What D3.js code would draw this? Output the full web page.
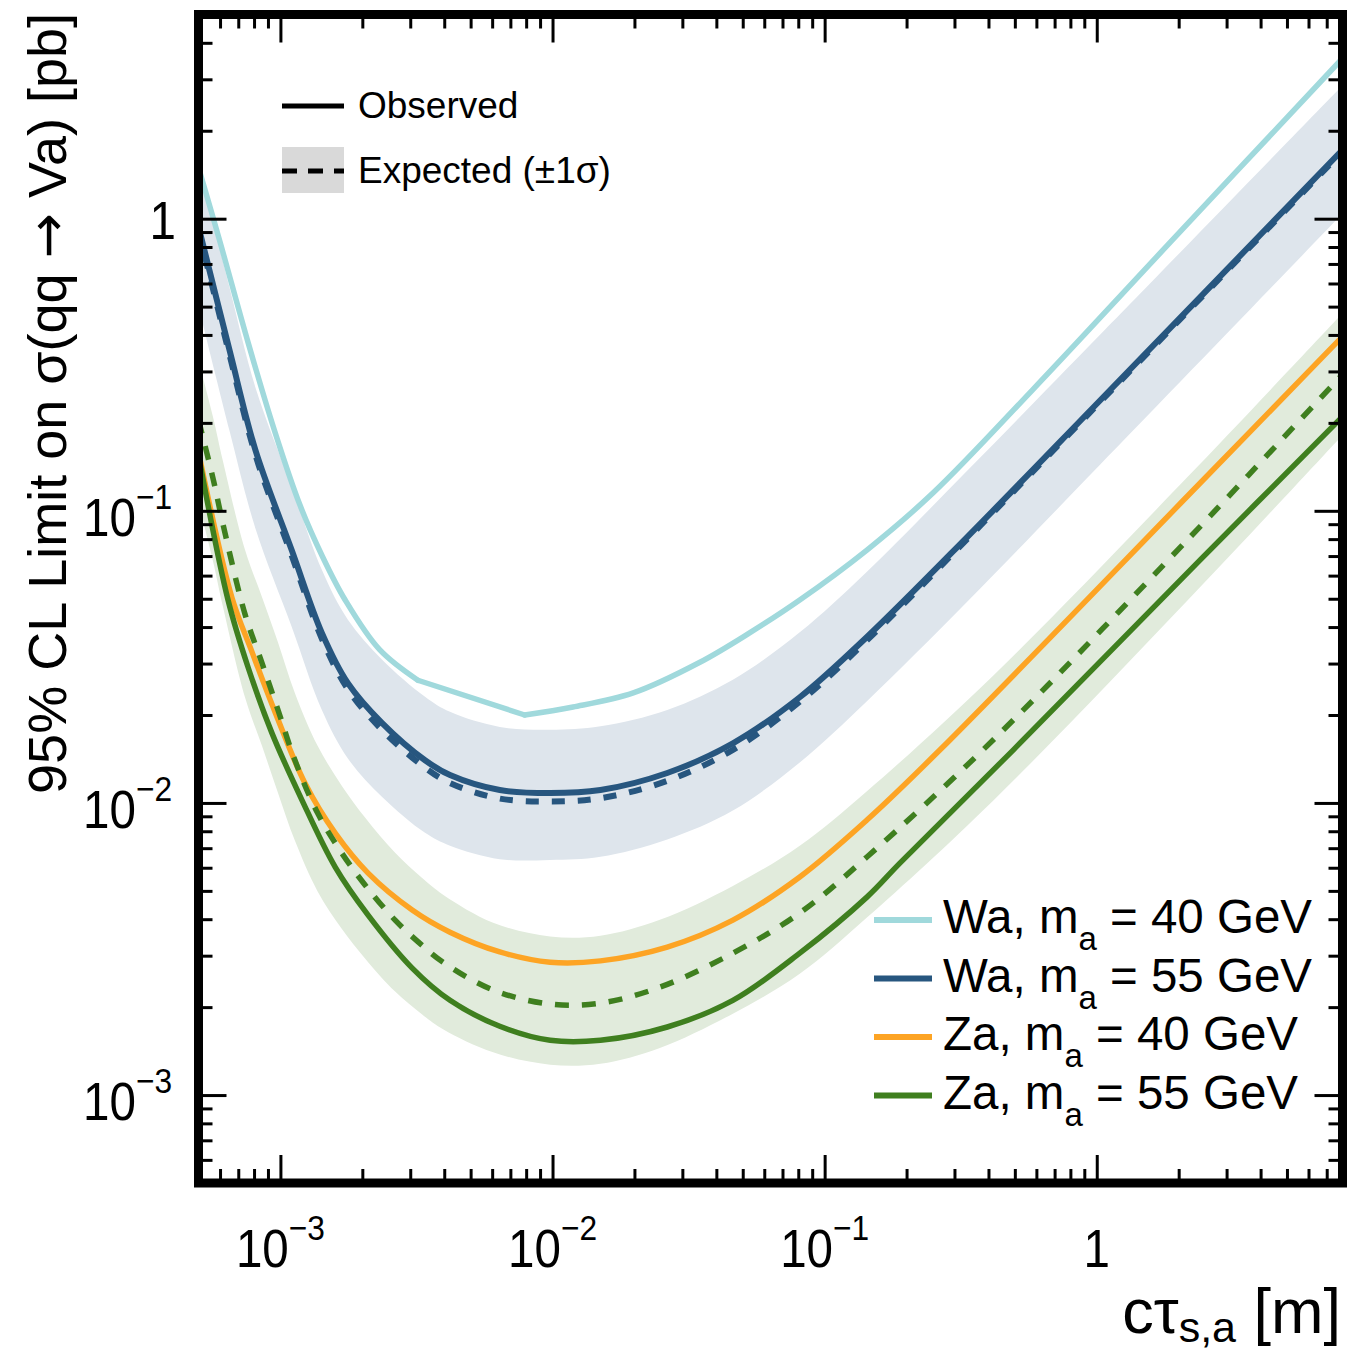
<!DOCTYPE html>
<html>
<head>
<meta charset="utf-8">
<script src="https://cdn.jsdelivr.net/npm/d3@7"></script>
<style>
  html, body { margin: 0; padding: 0; background: #fff; }
  svg { display: block; font-family: "Liberation Sans", Arial, Helvetica, sans-serif; }
</style>
</head>
<body>
<script>
// ---- Limits on sigma(qq -> Va) versus c*tau (log-log) ----

// Wa, m_a = 40 GeV : observed
const wa40X   = [5e-4, 6e-4, 7.6e-4, 9.55e-4, 1.18e-3, 1.43e-3, 1.73e-3, 2.32e-3, 3.2e-3, 7.9e-3, 1.19e-2, 1.98e-2, 3.48e-2, 5.3e-2, 8.1e-2, 0.143, 0.25, 0.58, 1.75, 8];
const wa40Obs = [1.50, 0.832, 0.378, 0.186, 0.1046, 0.0695, 0.0495, 0.0334, 0.0263, 0.0200, 0.0213, 0.0238, 0.0303, 0.0382, 0.0495, 0.0734, 0.115, 0.259, 0.78, 3.54];
// the observed Wa 40 GeV curve has sharp corners at these two points
const wa40Corners = [3.2e-3, 7.9e-3];

// Wa, m_a = 55 GeV : observed, expected and +-1 sigma band
const wa55X   = [5e-4, 6.5e-4, 8.1e-4, 1.1e-3, 1.42e-3, 1.77e-3, 2.36e-3, 3.4e-3, 4.2e-3, 6.4e-3, 9.8e-3, 1.5e-2, 2.64e-2, 4.6e-2, 8.1e-2, 0.143, 0.334, 1.03, 8];
const wa55Obs = [0.94, 0.355, 0.161, 0.0734, 0.0382, 0.0257, 0.0188, 0.0140, 0.01246, 0.01107, 0.01081, 0.01107, 0.01266, 0.0160, 0.0230, 0.0370, 0.0813, 0.239, 1.72];
const wa55Exp = [0.91, 0.342, 0.155, 0.0703, 0.0365, 0.0245, 0.0178, 0.0132, 0.0117, 0.01035, 0.01012, 0.01038, 0.0119, 0.0152, 0.0222, 0.0360, 0.0800, 0.236, 1.70];
const wa55Hi  = [1.55, 0.581, 0.264, 0.121, 0.0628, 0.0424, 0.0310, 0.0231, 0.0205, 0.0182, 0.0178, 0.0183, 0.0208, 0.0264, 0.0384, 0.0619, 0.137, 0.401, 2.86];
const wa55Lo  = [0.50, 0.188, 0.0868, 0.0401, 0.0208, 0.0142, 0.0105, 0.0079, 0.00714, 0.00642, 0.00638, 0.00654, 0.0075, 0.00942, 0.01376, 0.0223, 0.0488, 0.144, 1.04];

// Za, m_a = 40 GeV : observed
const za40X   = [5e-4, 6.64e-4, 7.86e-4, 9.55e-4, 1.23e-3, 1.59e-3, 2.1e-3, 3.05e-3, 4.2e-3, 6.4e-3, 9.8e-3, 1.5e-2, 2.64e-2, 4.6e-2, 8.1e-2, 0.143, 0.265, 2.4, 8];
const za40Obs = [0.159, 0.0503, 0.0329, 0.0205, 0.0117, 0.00788, 0.00575, 0.0043, 0.00361, 0.00309, 0.00285, 0.00288, 0.00321, 0.00397, 0.00558, 0.00874, 0.01517, 0.1245, 0.395];

// Za, m_a = 55 GeV : observed
const za55X   = [5e-4, 6.42e-4, 7.6e-4, 9.31e-4, 1.2e-3, 1.59e-3, 2.1e-3, 3.05e-3, 4.2e-3, 6.4e-3, 9.8e-3, 1.5e-2, 2.64e-2, 4.6e-2, 8.1e-2, 0.143, 0.189, 0.493, 2.4, 8];
const za55Obs = [0.155, 0.0495, 0.0292, 0.01734, 0.01023, 0.00603, 0.00413, 0.00272, 0.00211, 0.00172, 0.00154, 0.00154, 0.00171, 0.00211, 0.00306, 0.00476, 0.00622, 0.01517, 0.0679, 0.21];

// Za, m_a = 55 GeV : expected and +-1 sigma band
const za55ExpX = [5e-4, 5.65e-4, 6.15e-4, 7.41e-4, 8.56e-4, 9.8e-4, 1.13e-3, 1.37e-3, 1.68e-3, 2.05e-3, 2.64e-3, 3.31e-3, 3.96e-3, 6.05e-3, 9.8e-3, 1.5e-2, 2.48e-2, 4.6e-2, 8.1e-2, 0.143, 0.416, 2.15, 8];
const za55Exp  = [0.2046, 0.1295, 0.0901, 0.0443, 0.0301, 0.0208, 0.01402, 0.00923, 0.00674, 0.00523, 0.00397, 0.00326, 0.00285, 0.002288, 0.00205, 0.002065, 0.00234, 0.00306, 0.0042, 0.00653, 0.01642, 0.0794, 0.293];
const za55Hi   = [0.327, 0.2098, 0.1478, 0.0735, 0.0506, 0.0354, 0.0238, 0.01569, 0.01146, 0.00889, 0.00675, 0.00554, 0.00485, 0.00389, 0.00349, 0.00351, 0.00398, 0.0052, 0.00714, 0.01097, 0.02726, 0.1302, 0.4747];
const za55Lo   = [0.1064, 0.0673, 0.0469, 0.023, 0.01565, 0.01082, 0.00743, 0.00498, 0.00371, 0.00293, 0.00226, 0.00189, 0.00168, 0.0014, 0.00127, 0.00128, 0.00145, 0.0019, 0.0026, 0.00405, 0.01018, 0.0492, 0.1817];

// Axis tick labels (mantissa, exponent)
const xMajor = [1e-3, 1e-2, 1e-1, 1];
const xMajorLabels = [["10", "\u22123"], ["10", "\u22122"], ["10", "\u22121"], ["1", ""]];
const yMajor = [1e-3, 1e-2, 1e-1, 1];
const yMajorLabels = [["10", "\u22123"], ["10", "\u22122"], ["10", "\u22121"], ["1", ""]];

// Legend entries
const seriesNames  = ["Wa, m", "Wa, m", "Za, m", "Za, m"];
const seriesMass   = [" = 40 GeV", " = 55 GeV", " = 40 GeV", " = 55 GeV"];
const seriesColors = ["#a0d9dc", "#27567f", "#fda424", "#3f7f1f"];

// ---- layout ----
const W = 1366, H = 1351;
const L = 198.5, R = 1342.5, T = 14.5, B = 1183;

const svg = d3.select("body").append("svg").attr("width", W).attr("height", H);

const x = d3.scaleLog().domain([5e-4, 8]).range([L, R]);
const y = d3.scaleLog().domain([5e-4, 5]).range([B, T]);

svg.append("defs").append("clipPath").attr("id", "plotClip")
  .append("rect").attr("x", L + 4.5).attr("y", T + 4.5)
  .attr("width", R - L - 9).attr("height", B - T - 9);

const plot = svg.append("g").attr("clip-path", "url(#plotClip)");

const zip = (xs, ys) => xs.map((v, i) => [v, ys[i]]);
const zip3 = (xs, lo, hi) => xs.map((v, i) => [v, lo[i], hi[i]]);

const curve = d3.curveCatmullRom.alpha(0.5);
const lineSmooth = d3.line().x(d => x(d[0])).y(d => y(d[1])).curve(curve);
const lineStraight = d3.line().x(d => x(d[0])).y(d => y(d[1]));
const band = d3.area().x(d => x(d[0])).y0(d => y(d[1])).y1(d => y(d[2])).curve(curve);

// +-1 sigma bands
plot.append("path").datum(zip3(wa55X, wa55Lo, wa55Hi))
  .attr("d", band).attr("fill", "#dee5ec");
plot.append("path").datum(zip3(za55ExpX, za55Lo, za55Hi))
  .attr("d", band).attr("fill", "#e1ebdc");

// Wa 40 GeV observed: smooth pieces joined by a straight piece between the corners
{
  const pts = zip(wa40X, wa40Obs);
  const [c1, c2] = wa40Corners;
  const pieces = [
    [pts.filter(d => d[0] <= c1), lineSmooth],
    [pts.filter(d => d[0] >= c1 && d[0] <= c2), lineStraight],
    [pts.filter(d => d[0] >= c2), lineSmooth]
  ];
  pieces.forEach(([p, gen]) => {
    plot.append("path").datum(p).attr("d", gen)
      .attr("fill", "none").attr("stroke", seriesColors[0]).attr("stroke-width", 5.5)
      .attr("stroke-linejoin", "round").attr("stroke-linecap", "round");
  });
}

plot.append("path").datum(zip(wa55X, wa55Exp)).attr("d", lineSmooth)
  .attr("fill", "none").attr("stroke", seriesColors[1]).attr("stroke-width", 6)
  .attr("stroke-dasharray", "13,13");
plot.append("path").datum(zip(wa55X, wa55Obs)).attr("d", lineSmooth)
  .attr("fill", "none").attr("stroke", seriesColors[1]).attr("stroke-width", 6);
plot.append("path").datum(zip(za40X, za40Obs)).attr("d", lineSmooth)
  .attr("fill", "none").attr("stroke", seriesColors[2]).attr("stroke-width", 5.5);
plot.append("path").datum(zip(za55ExpX, za55Exp)).attr("d", lineSmooth)
  .attr("fill", "none").attr("stroke", seriesColors[3]).attr("stroke-width", 5.5)
  .attr("stroke-dasharray", "14,13");
plot.append("path").datum(zip(za55X, za55Obs)).attr("d", lineSmooth)
  .attr("fill", "none").attr("stroke", seriesColors[3]).attr("stroke-width", 5.5);

// ---- ticks on all four sides (pointing inward) ----
function minorTicks(lo, hi) {
  const out = [];
  for (let e = -5; e <= 1; e++) {
    for (let k = 2; k <= 9; k++) {
      const v = k * Math.pow(10, e);
      if (v > lo * 1.0001 && v < hi * 0.9999) out.push(v);
    }
  }
  return out;
}
const xMinor = minorTicks(5e-4, 8);
const yMinor = minorTicks(5e-4, 5);

function styleAxis(g) {
  g.select(".domain").remove();
  g.selectAll(".tick line").attr("stroke", "#000").attr("stroke-width", 3);
  g.selectAll(".tick text").remove();
}
const MAJ = -28, MIN = -14;
[[d3.axisBottom, B], [d3.axisTop, T]].forEach(([ax, pos]) => {
  svg.append("g").attr("transform", `translate(0,${pos})`)
    .call(ax(x).tickValues(xMajor).tickSize(MAJ).tickFormat("")).call(styleAxis);
  svg.append("g").attr("transform", `translate(0,${pos})`)
    .call(ax(x).tickValues(xMinor).tickSize(MIN).tickFormat("")).call(styleAxis);
});
[[d3.axisLeft, L], [d3.axisRight, R]].forEach(([ax, pos]) => {
  svg.append("g").attr("transform", `translate(${pos},0)`)
    .call(ax(y).tickValues(yMajor).tickSize(MAJ).tickFormat("")).call(styleAxis);
  svg.append("g").attr("transform", `translate(${pos},0)`)
    .call(ax(y).tickValues(yMinor).tickSize(MIN).tickFormat("")).call(styleAxis);
});

// frame
svg.append("rect").attr("x", L).attr("y", T).attr("width", R - L).attr("height", B - T)
  .attr("fill", "none").attr("stroke", "#000").attr("stroke-width", 9);

// ---- tick labels ----
function powerLabel(g, mant, expo, anchor) {
  const t = g.append("text").attr("text-anchor", anchor).attr("font-size", 54).attr("fill", "#000");
  t.append("tspan").text(mant);
  if (expo) t.append("tspan").attr("font-size", 36).attr("dy", -27).text(expo);
  return t;
}
xMajor.forEach((v, i) => {
  const g = svg.append("g").attr("transform", `translate(${x(v)},1267) scale(0.88,1)`);
  powerLabel(g, xMajorLabels[i][0], xMajorLabels[i][1], "middle");
});
yMajor.forEach((v, i) => {
  const hasExp = !!yMajorLabels[i][1];
  const off = hasExp ? 25 : 20;
  const ax = hasExp ? 172 : 176;
  const g = svg.append("g").attr("transform", `translate(${ax},${y(v) + off}) scale(0.88,1)`);
  powerLabel(g, yMajorLabels[i][0], yMajorLabels[i][1], "end");
});

// ---- axis titles ----
const yt = svg.append("text")
  .attr("transform", "translate(66,13) rotate(-90)")
  .attr("text-anchor", "end").attr("font-size", 54).attr("fill", "#000");
yt.append("tspan").text("95% CL Limit on \u03c3(qq ");
yt.append("tspan").attr("font-family", "DejaVu Sans").text("\u2192");
yt.append("tspan").text(" Va) [pb]");

const xt = svg.append("text").attr("x", 1341).attr("y", 1333)
  .attr("text-anchor", "end").attr("font-size", 63).attr("fill", "#000");
xt.append("tspan").text("c\u03c4");
xt.append("tspan").attr("font-size", 43).attr("dy", 9).text("s,a");
xt.append("tspan").attr("dy", -9).text(" [m]");

// ---- legend: line styles ----
const lg1 = svg.append("g");
lg1.append("line").attr("x1", 282).attr("x2", 344).attr("y1", 106).attr("y2", 106)
  .attr("stroke", "#000").attr("stroke-width", 5);
lg1.append("text").attr("x", 358).attr("y", 118).attr("font-size", 37).text("Observed");
lg1.append("rect").attr("x", 282).attr("y", 147).attr("width", 62).attr("height", 46)
  .attr("fill", "#d9d9d9");
lg1.append("line").attr("x1", 282).attr("x2", 344).attr("y1", 171).attr("y2", 171)
  .attr("stroke", "#000").attr("stroke-width", 5).attr("stroke-dasharray", "15,11");
lg1.append("text").attr("x", 358).attr("y", 183).attr("font-size", 37).text("Expected (\u00b11\u03c3)");

// ---- legend: signal hypotheses ----
const lg2 = svg.append("g");
seriesNames.forEach((name, i) => {
  const base = 933 + i * 58.5;
  lg2.append("line").attr("x1", 874).attr("x2", 932).attr("y1", base - 13).attr("y2", base - 13)
    .attr("stroke", seriesColors[i]).attr("stroke-width", 6);
  const t = lg2.append("text").attr("x", 943).attr("y", base).attr("font-size", 47.5).attr("fill", "#000");
  t.append("tspan").text(name);
  t.append("tspan").attr("font-size", 33).attr("dy", 17).text("a");
  t.append("tspan").attr("dy", -17).text(seriesMass[i]);
});
</script>
</body>
</html>
